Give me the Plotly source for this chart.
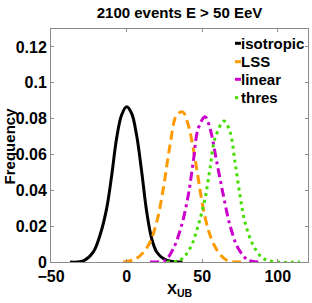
import plotly.graph_objects as go

iso_x = [-37.4, -28.6, -22.0, -17.6, -13.2, -9.9, -6.6, -3.3, 0.0, 3.3, 6.6, 10.0, 13.3, 16.6, 19.9, 24.3, 29.0, 37.0]
iso_y = [0.0, 0.0006, 0.0056, 0.0149, 0.0298, 0.048, 0.069, 0.082, 0.0866, 0.083, 0.0708, 0.0503, 0.028, 0.013, 0.0056, 0.002, 0.0005, 0.0]

lss_x = [-2.2, 6.6, 14.4, 19.9, 24.3, 28.7, 33.1, 37.1, 40.8, 44.1, 47.4, 50.7, 55.2, 60.6, 66.2, 72.8, 77.0]
lss_y = [0.0, 0.002, 0.0093, 0.0223, 0.041, 0.065, 0.082, 0.0838, 0.0764, 0.0633, 0.0466, 0.0298, 0.0149, 0.0056, 0.001, 0.0, 0.0]

lin_x = [15.5, 25.4, 30.9, 36.4, 40.8, 44.1, 47.4, 51.9, 55.2, 59.6, 64.0, 68.4, 73.9, 80.5, 88.0]
lin_y = [0.0, 0.001, 0.0075, 0.0205, 0.0373, 0.0559, 0.0745, 0.081, 0.0745, 0.0559, 0.0373, 0.0205, 0.0075, 0.001, 0.0]

thr_x = [26.5, 35.3, 41.9, 47.4, 51.9, 55.2, 58.5, 64.4, 68.4, 71.7, 75.0, 78.3, 83.8, 90.4, 99.3, 114.7]
thr_y = [0.0, 0.001, 0.0075, 0.0205, 0.0354, 0.0522, 0.069, 0.0786, 0.0726, 0.0559, 0.0373, 0.0223, 0.0093, 0.002, 0.0, 0.0]

series_names = ["isotropic", "LSS", "linear", "thres"]
series_colors = ["black", "#FF9900", "#CC00CC", "#44DD00"]
series_dash = ["solid", "9px,5px", "9px,4px,3px,4px", "3px,4px"]

x_ticks = [-50, 0, 50, 100]
y_ticks = [0, 0.02, 0.04, 0.06, 0.08, 0.1, 0.12]
y_tick_labels = ["0", "0.02", "0.04", "0.06", "0.08", "0.1", "0.12"]

FONT = "Liberation Sans, Arial, sans-serif"
BOLD = lambda s: dict(family=FONT, size=s, color="black", weight="bold")
AXIS_GRAY = "#8c8c8c"

fig = go.Figure()
for xs, ys, name, col, dsh in zip([iso_x, lss_x, lin_x, thr_x], [iso_y, lss_y, lin_y, thr_y],
                                  series_names, series_colors, series_dash):
    fig.add_trace(go.Scatter(x=xs, y=ys, mode="lines", name=name, showlegend=False,
                             line=dict(color=col, width=3, dash=dsh, shape="spline")))

# compact legend (top right, inside the axes)
legend_rows = [0.9386, 0.8597, 0.7841, 0.7052]
shapes = []
annotations = []
for name, col, dsh, yy in zip(series_names, series_colors, series_dash, legend_rows):
    shapes.append(dict(type="line", xref="paper", yref="paper", x0=0.716, x1=0.739, y0=yy, y1=yy,
                       line=dict(color=col, width=3, dash=dsh)))
    annotations.append(dict(text=name, xref="paper", yref="paper", x=0.733, y=yy,
                            xanchor="left", yanchor="middle", showarrow=False, font=BOLD(15)))

annotations.append(dict(text="X<sub>UB</sub>", xref="paper", yref="paper", x=0.5, y=-0.07,
                        xanchor="center", yanchor="top", showarrow=False, font=BOLD(15)))
annotations.append(dict(text="Frequency", xref="paper", yref="paper", x=-0.16, y=0.5, textangle=-90,
                        xanchor="center", yanchor="middle", showarrow=False, font=BOLD(15)))

axis_common = dict(showline=True, linecolor=AXIS_GRAY, linewidth=1, mirror="ticks",
                   ticks="inside", ticklen=3, tickcolor=AXIS_GRAY, showgrid=False, zeroline=False,
                   tickfont=BOLD(16), automargin=False)

fig.update_layout(
    width=312, height=303,
    margin=dict(l=51, r=4, t=29, b=41),
    paper_bgcolor="white", plot_bgcolor="white",
    title=dict(text="2100 events E > 50 EeV", x=0.5, xref="paper", xanchor="center",
               y=1 - 13 / 303, yanchor="middle", font=BOLD(15)),
    xaxis=dict(range=[-50, 120], tickvals=x_ticks, **axis_common),
    yaxis=dict(range=[0, 0.13], tickvals=y_ticks, ticktext=y_tick_labels, **axis_common),
    shapes=shapes,
    annotations=annotations,
    showlegend=False,
)

fig.write_html("out.html", config={"displayModeBar": False},
               post_script="document.body.style.margin='0';document.body.style.overflow='hidden';")
